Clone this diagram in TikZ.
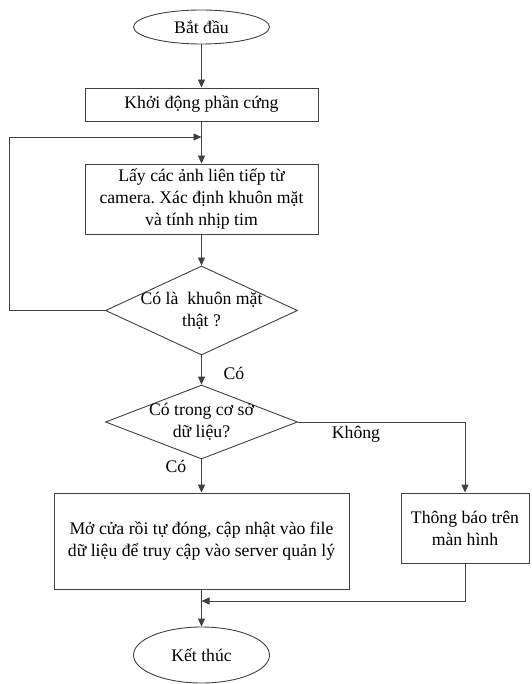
\documentclass[tikz,border=0pt]{standalone}
\usepackage{fontspec}
\setmainfont{Liberation Serif}
\usetikzlibrary{shapes.geometric,arrows.meta}
\frenchspacing
\begin{document}
\begin{tikzpicture}[x=1pt,y=-1pt,
  font=\fontsize{17.7}{22}\selectfont,
  line/.style={draw=black!75, line width=0.9pt},
  arr/.style={line, -{Triangle[length=8pt,width=7pt]}},
  term/.style={line, ellipse, inner sep=0pt, minimum width=136pt},
  proc/.style={line, rectangle, inner sep=0pt, align=center},
  decision/.style={line, diamond, inner sep=-30pt, align=center, minimum width=192pt},
  lbl/.style={inner sep=0pt}]
\useasboundingbox (0,0) rectangle (531,684);

\node[term, minimum height=34pt] (start) at (201.5,27) {Bắt đầu};
\node[proc, minimum width=233pt, minimum height=33pt] (b1) at (201.5,104.5) {Khởi động phần cứng};
\node[proc, minimum width=233pt, minimum height=70pt] (b2) at (201.5,199) {Lấy các ảnh liên tiếp từ\\camera. Xác định khuôn mặt\\và tính nhịp tim};
\node[decision, minimum height=89pt] (d1) at (201.5,310.5) {Có là\ \ khuôn mặt\\thật ?};
\node[decision, minimum height=74pt] (d2) at (201.5,422) {Có trong cơ sở\\dữ liệu?};
\node[proc, minimum width=295pt, minimum height=96pt] (b3) at (201.5,541) {Mở cửa rồi tự đóng, cập nhật vào file\\dữ liệu để truy cập vào server quản lý};
\node[proc, minimum width=128pt, minimum height=70pt] (b4) at (465,528) {Thông báo trên\\màn hình};
\node[term, minimum height=56pt] (end) at (201.5,655) {Kết thúc};

\node[lbl] (yes1) at (234,373) {Có};
\node[lbl] (no2) at (356,434) {Không};
\node[lbl] (yes2) at (176,466) {Có};

\coordinate (j1) at (201.5,137);
\coordinate (loopc) at (9,137);
\coordinate (j2) at (201.5,601);

\draw[arr] (start) -- (b1);
\draw[arr] (b1) -- (b2);
\draw[arr] (d1.west) -| (loopc) -- (j1);
\draw[arr] (b2) -- (d1);
\draw[arr] (d1) -- (d2);
\draw[arr] (d2) -- (b3);
\draw[arr] (d2.east) -| (b4.north);
\draw[arr] (b4.south) |- (j2);
\draw[arr] (b3) -- (end);
\end{tikzpicture}
\end{document}
